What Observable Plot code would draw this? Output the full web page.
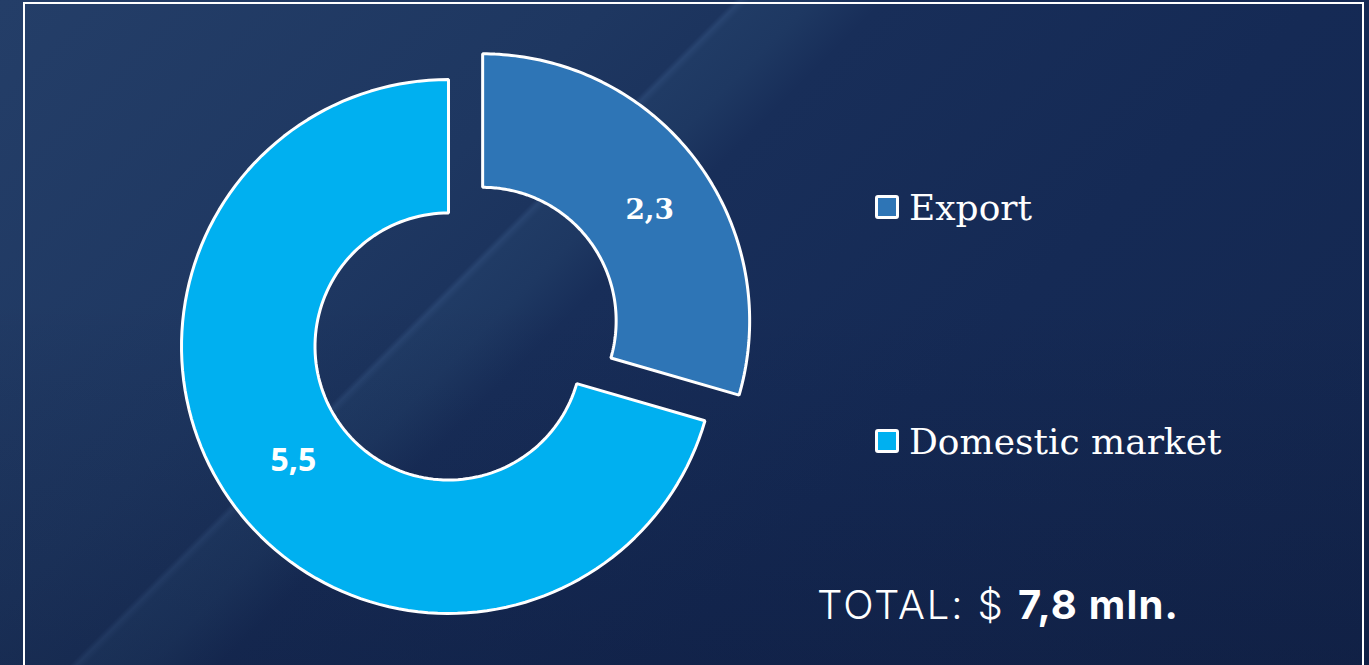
<!DOCTYPE html>
<html>
<head>
<meta charset="utf-8">
<script src="https://cdn.jsdelivr.net/npm/d3@7"></script>
<script src="https://cdn.jsdelivr.net/npm/@observablehq/plot@0.6"></script>
<style>
  html, body { margin: 0; padding: 0; }
  body {
    width: 1369px; height: 665px; overflow: hidden; position: relative;
    background:
      linear-gradient(to bottom, rgba(5,10,35,0) 45%, rgba(5,10,35,0.22) 100%),
      linear-gradient(135deg, #243e68 0%, #1e3761 30%, #1c345e 36.1%, #284470 36.45%, #203b65 36.9%, #1e3862 40%, #182e59 43.5%, #152a55 65%, #14274f 100%);
  }
  #frame {
    position: absolute; left: 23px; top: 2px; width: 1341px; height: 700px;
    border: 2px solid #ffffff; box-sizing: border-box;
  }
  #chart { position: absolute; left: 0; top: 0; }
  .legend {
    position: absolute; left: 875px; font-family: "DejaVu Serif", serif;
    font-size: 36px; color: #ffffff; display: flex; align-items: center; white-space: nowrap; height: 40px;
  }
  .legend .sw {
    width: 18px; height: 18px; border: 3px solid #ffffff; border-radius: 3px; margin-right: 10px; flex: none;
  }
  #total {
    position: absolute; left: 817px; top: 580px; font-family: Inter, "Open Sans", sans-serif;
    font-size: 40px; color: #ffffff; white-space: nowrap; font-weight: 300; letter-spacing: 1.9px;
  }
  #total b { font-weight: 700; letter-spacing: 1.2px; }
</style>
</head>
<body>
<div id="frame"></div>
<div id="chart"></div>
<div class="legend" id="lg0" style="top:187px"></div>
<div class="legend" id="lg1" style="top:421px"></div>
<div id="total"></div>
<script>
const categories = ["Export", "Domestic market"];
const values = [2.3, 5.5];
const valueLabels = ["2,3", "5,5"];
const colors = ["#2e75b6", "#00b0f0"];
const totalLabel = "7,8 mln.";
const exploded = [true, false];

const W = 1369, H = 665;
const cx = 448, cy = 346, R = 267; // layout of the donut in pixels
const innerRatio = 0.5;
const explode = 0.16;

const pie = d3.pie().sort(null).value(d => d.value).startAngle(0).endAngle(2 * Math.PI);
const data = categories.map((c, i) => ({cat: c, value: values[i], label: valueLabels[i], exploded: exploded[i]}));
const arcs = pie(data);

const pts = [];
const labels = [];
arcs.forEach(a => {
  const mid = (a.startAngle + a.endAngle) / 2;
  const ox = a.data.exploded ? explode * Math.sin(mid) : 0;
  const oy = a.data.exploded ? explode * Math.cos(mid) : 0;
  const N = 120;
  for (let k = 0; k <= N; k++) {
    const t = a.startAngle + (a.endAngle - a.startAngle) * k / N;
    pts.push({cat: a.data.cat, x: ox + Math.sin(t), y: oy + Math.cos(t)});
  }
  for (let k = N; k >= 0; k--) {
    const t = a.startAngle + (a.endAngle - a.startAngle) * k / N;
    pts.push({cat: a.data.cat, x: ox + innerRatio * Math.sin(t), y: oy + innerRatio * Math.cos(t)});
  }
  const rm = (1 + innerRatio) / 2;
  labels.push({cat: a.data.cat, text: a.data.label, x: ox + rm * Math.sin(mid), y: oy + rm * Math.cos(mid)});
});

const chart = Plot.plot({
  width: W, height: H,
  margin: 0,
  style: {background: "transparent", overflow: "visible"},
  x: {domain: [-cx / R, (W - cx) / R], axis: null},
  y: {domain: [-(H - cy) / R, cy / R], axis: null},
  color: {domain: categories, range: colors},
  marks: [
    Plot.line(pts, {x: "x", y: "y", z: "cat", fill: "cat", stroke: "#ffffff", strokeWidth: 3, curve: "linear-closed", strokeLinejoin: "miter"}),
    Plot.text(labels.filter(d => d.cat === categories[0]), {x: "x", y: "y", text: "text", fill: "#ffffff", fontSize: 28, fontWeight: "bold", fontFamily: "DejaVu Serif, serif", dx: 7, dy: 9}),
    Plot.text(labels.filter(d => d.cat === categories[1]), {x: "x", y: "y", text: "text", fill: "#ffffff", fontSize: 32, fontWeight: "bold", fontFamily: "Open Sans, sans-serif", dx: 5, dy: -6})
  ]
});
document.getElementById("chart").appendChild(chart);

categories.forEach((c, i) => {
  const el = document.getElementById("lg" + i);
  const sw = document.createElement("div");
  sw.className = "sw";
  sw.style.background = colors[i];
  el.appendChild(sw);
  const sp = document.createElement("span");
  sp.textContent = c;
  el.appendChild(sp);
});
document.getElementById("total").innerHTML = "TOTAL: $ <b>" + totalLabel + "</b>";
</script>
</body>
</html>
